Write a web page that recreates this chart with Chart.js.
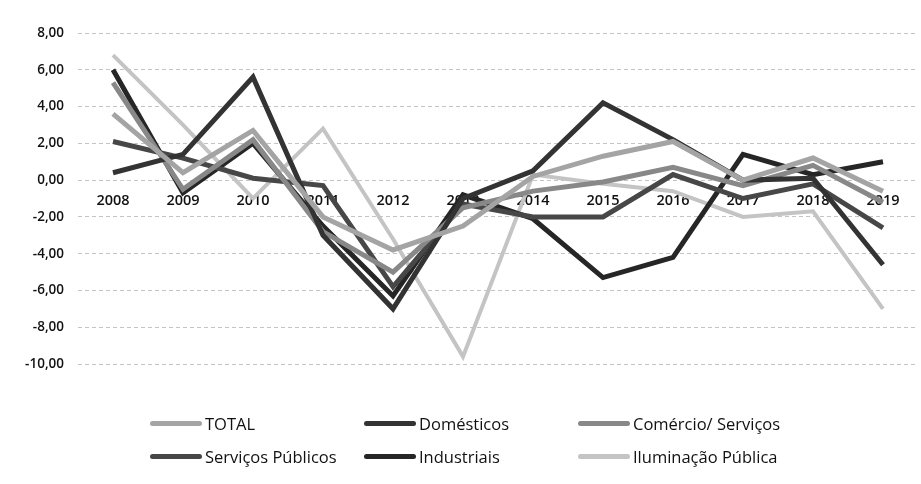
<!DOCTYPE html>
<html lang="pt">
<head>
<meta charset="utf-8">
<title>Variação do consumo por classe</title>
<script src="https://cdn.jsdelivr.net/npm/chart.js@4.4.1/dist/chart.umd.min.js"></script>
<style>
  html, body { margin: 0; padding: 0; background: #fff; }
  #wrap { position: relative; width: 921px; height: 484px; }
  #legend {
    position: absolute; left: 150px; top: 412px;
    display: grid; grid-template-columns: 214px 214px auto; row-gap: 10px;
    font-family: 'Open Sans', sans-serif; font-size: 16.5px; color: #111;
  }
  .item { display: flex; align-items: center; white-space: nowrap; height: 23px; }
  .swatch { width: 52px; height: 5px; border-radius: 3px; margin-right: 3px; }
</style>
</head>
<body>
<div id="wrap">
  <canvas id="chart" width="921" height="484"></canvas>
  <div id="legend"></div>
</div>
<script>
// --- Data ---
const years = ['2008', '2009', '2010', '2011', '2012', '2013', '2014', '2015', '2016', '2017', '2018', '2019'];
const total = [3.6, 0.4, 2.7, -2.0, -3.8, -2.5, 0.2, 1.3, 2.1, 0.0, 1.2, -0.6];
const domesticos = [0.4, 1.4, 5.6, -3.0, -7.0, -1.0, 0.5, 4.2, 2.2, 0.0, 0.1, -4.6];
const comercio = [5.3, -0.5, 2.2, -2.8, -5.0, -1.5, -0.6, -0.1, 0.7, -0.3, 0.8, -1.2];
const servicosPublicos = [2.1, 1.2, 0.1, -0.3, -5.8, -1.3, -2.0, -2.0, 0.3, -1.0, -0.2, -2.6];
const industriais = [6.0, -0.7, 2.0, -2.5, -6.3, -0.8, -2.1, -5.3, -4.2, 1.4, 0.3, 1.0];
const iluminacao = [6.8, 3.0, -1.0, 2.8, -3.2, -9.6, 0.3, -0.2, -0.6, -2.0, -1.7, -7.0];

const seriesNames = ['TOTAL', 'Domésticos', 'Comércio/ Serviços', 'Serviços Públicos', 'Industriais', 'Iluminação Pública'];
const seriesValues = [total, domesticos, comercio, servicosPublicos, industriais, iluminacao];
const seriesColors = ['#a4a4a4', '#333333', '#888888', '#474747', '#262626', '#c4c4c4'];

const fontFamily = "'Open Sans', sans-serif";

const datasets = seriesNames.map((name, i) => ({
    label: name,
    data: seriesValues[i],
    borderColor: seriesColors[i],
    backgroundColor: seriesColors[i],
    borderWidth: i === 5 ? 4 : 5,
    pointRadius: 0,
    tension: 0,
    fill: false
}));

new Chart(document.getElementById('chart'), {
    type: 'line',
    data: { labels: years, datasets },
    options: {
        responsive: false,
        animation: false,
        layout: { padding: { top: 33, right: 3, bottom: 120, left: 0 } },
        plugins: {
            legend: { display: false },
            tooltip: { enabled: false }
        },
        scales: {
            x: {
                position: { y: 0 },
                offset: true,
                grid: { display: false, drawTicks: false },
                border: { display: false },
                ticks: {
                    padding: 12,
                    color: '#111',
                    font: { family: fontFamily, size: 14.5, weight: '600' },
                    maxRotation: 0
                }
            },
            y: {
                min: -10,
                max: 8,
                afterFit: (scale) => { scale.width = 78; },
                grid: {
                    color: '#c4c4c4',
                    lineWidth: 1,
                    drawTicks: false
                },
                border: { display: false, dash: [4, 3] },
                ticks: {
                    stepSize: 2,
                    padding: 14,
                    color: '#111',
                    font: { family: fontFamily, size: 13.5, weight: '600' },
                    callback: (v) => v.toFixed(2).replace('.', ',')
                }
            }
        }
    }
});

// --- Legend (two rows of three) ---
const legendEl = document.getElementById('legend');
seriesNames.forEach((name, i) => {
    const item = document.createElement('div');
    item.className = 'item';
    const sw = document.createElement('span');
    sw.className = 'swatch';
    sw.style.background = seriesColors[i];
    const txt = document.createElement('span');
    txt.textContent = name;
    item.appendChild(sw);
    item.appendChild(txt);
    legendEl.appendChild(item);
});
</script>
</body>
</html>
